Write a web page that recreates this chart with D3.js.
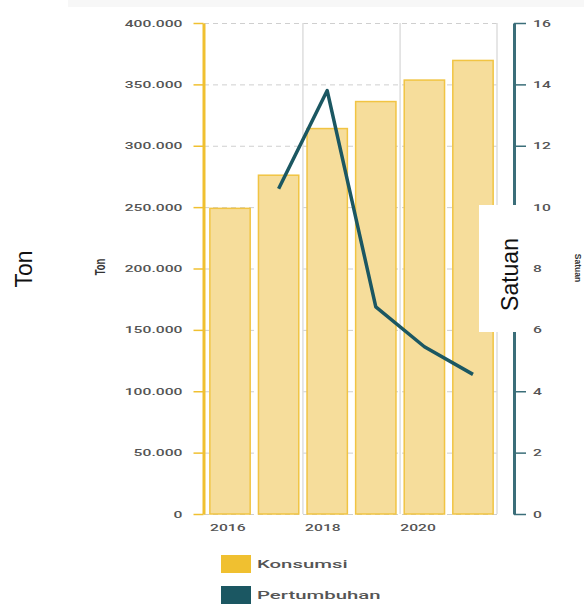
<!DOCTYPE html>
<html>
<head>
<meta charset="utf-8">
<script src="https://cdn.jsdelivr.net/npm/d3@7"></script>
<style>
  body { margin: 0; background: #fff; }
  svg { display: block; }
</style>
</head>
<body>
<svg id="chart" width="584" height="604"></svg>
<script>
// Annual consumption (ton) and growth (%)
const years = [2016, 2017, 2018, 2019, 2020, 2021];
const konsumsi = [249000, 276000, 314000, 336000, 353500, 369500];
const pertumbuhan = [null, 10.6, 13.8, 6.75, 5.45, 4.55];
const leftTicks = [0, 50000, 100000, 150000, 200000, 250000, 300000, 350000, 400000];
const rightTicks = [0, 2, 4, 6, 8, 10, 12, 14, 16];
const xTickYears = [2016, 2018, 2020];
const legendLabels = ["Konsumsi", "Pertumbuhan"];

const colors = {
  barFill: "#f6dd9b",
  barStroke: "#f1c443",
  yellow: "#f0c030",
  teal: "#1b5762",
  tealAxis: "#3b6e79",
  grid: "#cfcfcf",
  vgrid: "#dedede",
  text: "#555"
};

const svg = d3.select("#chart");
const plot = { left: 204, right: 497, top: 23, bottom: 514 };
const stretch = 1.65; // horizontal widening of chart lettering

// faint band along the top edge
svg.append("rect").attr("x", 68).attr("y", 0).attr("width", 516).attr("height", 7).attr("fill", "#f7f7f7");

const x = d3.scaleBand().domain(years).range([205, 498]).paddingInner(0.17).paddingOuter(0.1);
const xAxisScale = d3.scaleLinear().domain([2015.5, 2021.66]).range([plot.left, plot.right]);
const yL = d3.scaleLinear().domain([0, 400000]).range([plot.bottom, plot.top]);
const yR = d3.scaleLinear().domain([0, 16]).range([plot.bottom, plot.top]);

const fmt = d3.formatLocale({ decimal: ",", thousands: ".", grouping: [3], currency: ["", ""] }).format(",");

// horizontal dashed grid
svg.append("g").selectAll("line").data(leftTicks).join("line")
  .attr("x1", plot.left).attr("x2", plot.right)
  .attr("y1", d => yL(d) + 0.5).attr("y2", d => yL(d) + 0.5)
  .attr("stroke", colors.grid).attr("stroke-width", 1).attr("stroke-dasharray", "5,4");

// vertical grid at every other band boundary
const gap = x.step() - x.bandwidth();
const vgridX = [2018, 2020].map(yr => x(yr) - gap / 2).concat([plot.right]);
svg.append("g").selectAll("line").data(vgridX).join("line")
  .attr("x1", d => d).attr("x2", d => d)
  .attr("y1", plot.top).attr("y2", plot.bottom)
  .attr("stroke", colors.vgrid).attr("stroke-width", 1.5);

// bars
svg.append("g").selectAll("rect").data(years).join("rect")
  .attr("x", d => x(d)).attr("width", x.bandwidth())
  .attr("y", (d, i) => yL(konsumsi[i]))
  .attr("height", (d, i) => plot.bottom - yL(konsumsi[i]))
  .attr("fill", colors.barFill).attr("stroke", colors.barStroke).attr("stroke-width", 1.5);

// growth line
const linePts = years.map((yr, i) => ({ yr, v: pertumbuhan[i] }));
svg.append("path").datum(linePts)
  .attr("fill", "none").attr("stroke", colors.teal).attr("stroke-width", 3.5)
  .attr("stroke-linejoin", "round").attr("stroke-linecap", "butt")
  .attr("d", d3.line().defined(d => d.v != null)
    .x(d => x(d.yr) + x.bandwidth() / 2).y(d => yR(d.v)));

function styleText(sel, size) {
  sel.attr("font-family", "Roboto, 'Liberation Sans', sans-serif")
    .attr("font-size", size).attr("font-weight", 500).attr("fill", colors.text);
}

// left axis
const gL = svg.append("g").attr("transform", `translate(${plot.left - 0.5},0)`)
  .call(d3.axisLeft(yL).tickValues(leftTicks).tickFormat(d => d === 0 ? "0" : fmt(d)).tickSize(10).tickSizeOuter(0));
gL.select(".domain").attr("stroke", colors.yellow).attr("stroke-width", 3);
gL.selectAll(".tick line").attr("stroke", colors.yellow).attr("stroke-width", 1.5);
gL.selectAll(".tick text").call(styleText, 9.5)
  .attr("x", -21 / stretch).attr("transform", `scale(${stretch},1)`);

// right axis
const gR = svg.append("g").attr("transform", `translate(${plot.right + 17},0)`)
  .call(d3.axisRight(yR).tickValues(rightTicks).tickFormat(d3.format("d")).tickSize(12).tickSizeOuter(0));
gR.select(".domain").attr("stroke", colors.tealAxis).attr("stroke-width", 3);
gR.selectAll(".tick line").attr("stroke", colors.tealAxis).attr("stroke-width", 1.5);
gR.selectAll(".tick text").call(styleText, 9.5)
  .attr("x", 19 / stretch).attr("transform", `scale(${stretch},1)`);

// year labels
svg.append("g").selectAll("text").data(xTickYears).join("text")
  .attr("transform", d => `translate(${xAxisScale(d)},531) scale(${stretch},1)`)
  .attr("text-anchor", "middle").text(d => d).call(styleText, 9.5);

// small axis titles
svg.append("text").attr("transform", "translate(105,267) scale(1.5,1) rotate(-90)")
  .attr("text-anchor", "middle").attr("font-family", "'Liberation Sans', Arial, sans-serif")
  .attr("font-size", 9.5).attr("font-weight", 700).attr("fill", "#333").text("Ton");
svg.append("text").attr("transform", "translate(575,268) rotate(90)")
  .attr("text-anchor", "middle").attr("font-family", "'Liberation Sans', Arial, sans-serif")
  .attr("font-size", 8.5).attr("font-weight", 700).attr("fill", "#333").text("Satuan");

// legend
const legendColors = [colors.yellow, colors.teal];
const lg = svg.append("g").selectAll("g").data(legendLabels).join("g")
  .attr("transform", (d, i) => `translate(221,${555 + i * 31})`);
lg.append("rect").attr("width", 30).attr("height", 18).attr("fill", (d, i) => legendColors[i]);
lg.append("text").attr("transform", `translate(36,12.5) scale(1.77,1)`)
  .text(d => d).call(styleText, 11.5);

// large axis captions
svg.append("rect").attr("x", 479).attr("y", 205).attr("width", 50).attr("height", 127).attr("fill", "#fff");
svg.append("text").attr("transform", "translate(32,269) rotate(-90)")
  .attr("text-anchor", "middle").attr("font-family", "'Liberation Sans', Arial, sans-serif")
  .attr("font-size", 23).attr("fill", "#111").text("Ton");
svg.append("text").attr("transform", "translate(518,274.5) rotate(-90)")
  .attr("text-anchor", "middle").attr("font-family", "'Liberation Sans', Arial, sans-serif")
  .attr("font-size", 23).attr("fill", "#111").text("Satuan");
</script>
</body>
</html>
